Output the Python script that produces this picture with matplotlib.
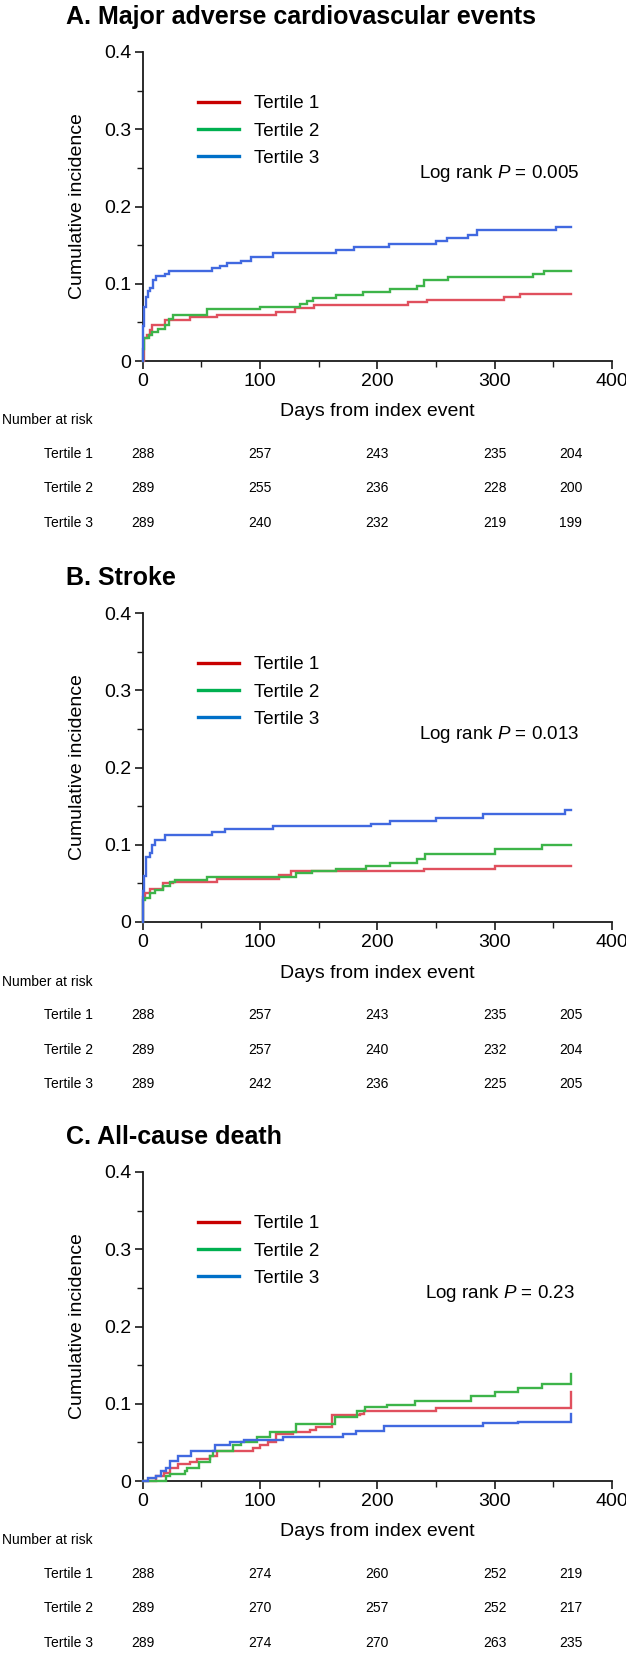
import matplotlib
matplotlib.use("Agg")
import matplotlib.pyplot as plt
from matplotlib.lines import Line2D
from matplotlib.ticker import MultipleLocator
from matplotlib.transforms import blended_transform_factory

plt.rcParams["font.family"] = ["Liberation Sans", "DejaVu Sans"]
plt.rcParams["mathtext.fontset"] = "custom"
plt.rcParams["mathtext.rm"] = "Liberation Sans"
plt.rcParams["mathtext.it"] = "Liberation Sans:italic"

groups = ["Tertile 1", "Tertile 2", "Tertile 3"]
curve_colors = ["#e0505e", "#3db449", "#4169e0"]
legend_colors = ["#c80000", "#00b050", "#0070c8"]

x_ticks = [0, 100, 200, 300, 400]
y_ticks = [0, 0.1, 0.2, 0.3, 0.4]
y_tick_labels = ["0", "0.1", "0.2", "0.3", "0.4"]
risk_days = [0, 100, 200, 300, 365]

titles = ["A. Major adverse cardiovascular events", "B. Stroke", "C. All-cause death"]
log_rank = ["0.005", "0.013", "0.23"]

# A. MACE
mace_t1_days = [0, 1, 4, 6, 8, 19, 40, 63, 114, 130, 146, 226, 242, 308, 322, 365]
mace_t1_inc = [0, 0.030, 0.034, 0.040, 0.046, 0.053, 0.057, 0.060, 0.064, 0.068, 0.072, 0.076, 0.079, 0.083, 0.087, 0.087]
mace_t2_days = [0, 0.5, 1.5, 5, 8, 13, 19, 22, 26, 55, 100, 134, 140, 145, 165, 188, 211, 234, 240, 260, 333, 342, 365]
mace_t2_inc = [0, 0.016, 0.030, 0.034, 0.038, 0.042, 0.047, 0.055, 0.060, 0.067, 0.070, 0.074, 0.078, 0.081, 0.085,
               0.089, 0.093, 0.097, 0.105, 0.109, 0.113, 0.117, 0.117]
mace_t3_days = [0, 0.5, 1.5, 2.5, 4.5, 6, 8.5, 11, 19, 22, 59, 66, 72, 84, 92, 111, 165, 180, 210, 250, 259, 277, 285,
                352, 365]
mace_t3_inc = [0, 0.045, 0.070, 0.083, 0.090, 0.095, 0.105, 0.110, 0.113, 0.117, 0.120, 0.123, 0.127, 0.130, 0.134,
               0.140, 0.144, 0.147, 0.151, 0.155, 0.159, 0.163, 0.170, 0.174, 0.174]

# B. Stroke
stroke_t1_days = [0, 0.5, 2, 6, 17.5, 26, 63, 116, 126, 240, 300, 365]
stroke_t1_inc = [0, 0.033, 0.037, 0.043, 0.050, 0.052, 0.056, 0.061, 0.066, 0.068, 0.072, 0.072]
stroke_t2_days = [0, 0.5, 2, 6, 10.5, 17, 23, 27.5, 55, 131, 144, 165, 190, 211, 234, 241, 300, 340, 365]
stroke_t2_inc = [0, 0.028, 0.031, 0.037, 0.041, 0.046, 0.052, 0.055, 0.058, 0.063, 0.066, 0.069, 0.073, 0.077, 0.082,
                 0.088, 0.095, 0.100, 0.100]
stroke_t3_days = [0, 0.5, 1.5, 2.5, 6, 7.6, 10.5, 19, 59, 70, 111, 195, 211, 250, 290, 360, 365]
stroke_t3_inc = [0, 0.040, 0.060, 0.084, 0.089, 0.100, 0.106, 0.112, 0.117, 0.121, 0.124, 0.127, 0.131, 0.135, 0.140,
                 0.145, 0.145]

# C. All-cause death
death_t1_days = [0, 11, 18, 23, 30, 40, 46.5, 57, 63, 94, 100, 107, 114, 128, 143, 148, 161, 185, 189, 250, 365, 365]
death_t1_inc = [0, 0.0065, 0.011, 0.017, 0.022, 0.025, 0.028, 0.032, 0.039, 0.043, 0.047, 0.050, 0.061, 0.063, 0.066,
                0.070, 0.085, 0.087, 0.091, 0.095, 0.095, 0.115]
death_t2_days = [0, 20, 23, 36, 38, 48, 57, 60, 77, 84, 97, 108.5, 131, 164, 182.5, 189.5, 208, 232, 280, 300, 320, 340,
                 365, 365]
death_t2_inc = [0, 0.0065, 0.009, 0.013, 0.017, 0.024, 0.032, 0.039, 0.047, 0.050, 0.057, 0.064, 0.074, 0.083, 0.090,
                0.096, 0.098, 0.104, 0.110, 0.115, 0.120, 0.125, 0.130, 0.138]
death_t3_days = [0, 4.4, 11, 16, 20, 23, 30, 41.5, 61.6, 74.4, 86, 120, 171, 182, 206, 290, 320, 365, 365]
death_t3_inc = [0, 0.0035, 0.0065, 0.013, 0.017, 0.026, 0.032, 0.039, 0.047, 0.050, 0.053, 0.057, 0.061, 0.065, 0.071,
                0.075, 0.077, 0.077, 0.087]

mace_risk = [[288, 257, 243, 235, 204], [289, 255, 236, 228, 200], [289, 240, 232, 219, 199]]
stroke_risk = [[288, 257, 243, 235, 205], [289, 257, 240, 232, 204], [289, 242, 236, 225, 205]]
death_risk = [[288, 274, 260, 252, 219], [289, 270, 257, 252, 217], [289, 274, 270, 263, 235]]

panels = [
    ([(mace_t1_days, mace_t1_inc), (mace_t2_days, mace_t2_inc), (mace_t3_days, mace_t3_inc)], mace_risk),
    ([(stroke_t1_days, stroke_t1_inc), (stroke_t2_days, stroke_t2_inc), (stroke_t3_days, stroke_t3_inc)], stroke_risk),
    ([(death_t1_days, death_t1_inc), (death_t2_days, death_t2_inc), (death_t3_days, death_t3_inc)], death_risk),
]

W, H = 626, 1653
fig = plt.figure(figsize=(W / 100, H / 100), dpi=100)

ax_left, ax_right = 142.7, 612.0
ax_h = 309.0
ax_bottoms = [361, 922, 1481]
ax_w = ax_right - ax_left

for i, ((curves, risk), title, p) in enumerate(zip(panels, titles, log_rank)):
    bottom = ax_bottoms[i]
    ax = fig.add_axes([ax_left / W, (H - bottom) / H, ax_w / W, ax_h / H])

    for (days, inc), color in zip(curves, curve_colors):
        ax.step(days, inc, where="post", color=color, lw=1.7, solid_joinstyle="miter", clip_on=False, zorder=3)

    ax.set_xlim(0, 400)
    ax.set_ylim(0, 0.4)
    ax.set_xticks(x_ticks)
    ax.set_yticks(y_ticks)
    ax.set_yticklabels(y_tick_labels)
    ax.xaxis.set_minor_locator(MultipleLocator(50))
    ax.yaxis.set_minor_locator(MultipleLocator(0.05))
    for s in ["top", "right"]:
        ax.spines[s].set_visible(False)
    for s in ["left", "bottom"]:
        ax.spines[s].set_linewidth(1.3)
        ax.spines[s].set_color("#1a1a1a")
    ax.tick_params(which="major", direction="out", length=5.8, width=1.2, color="#1a1a1a", labelsize=14, pad=2.5)
    ax.tick_params(which="minor", direction="out", length=4, width=1.0, color="#1a1a1a")

    ax.set_xlabel("Days from index event", fontsize=14, va="center")
    ax.xaxis.set_label_coords(0.5, -51 / ax_h)
    ax.set_ylabel("Cumulative incidence", fontsize=14, va="center")
    ax.yaxis.set_label_coords(-65 / ax_w, 0.5)

    ax.text((66 - ax_left) / ax_w, 1 + 35 / ax_h, title, transform=ax.transAxes,
            fontsize=18, fontweight="bold", ha="left", va="center")

    handles = [Line2D([], [], color=c, lw=2.4) for c in legend_colors]
    ax.legend(handles, groups, loc="upper left", bbox_to_anchor=((198 - ax_left) / ax_w, 1 - 43 / ax_h),
              frameon=False, fontsize=13.5, handlelength=2.2, handletextpad=0.8, labelspacing=0.55,
              borderpad=0, borderaxespad=0)

    ax.text(304, 0.243, f"Log rank $P$ = {p}", fontsize=13.5, ha="center", va="center")

    # number at risk table
    tr = blended_transform_factory(ax.transData, ax.transAxes)
    lab_x = (93 - ax_left) / ax_w
    ax.text(lab_x, -59.5 / ax_h, "Number at risk", transform=ax.transAxes, fontsize=10,
            ha="right", va="center", clip_on=False)
    for j, (g, row) in enumerate(zip(groups, risk)):
        y = -(93 + 34.5 * j) / ax_h
        ax.text(lab_x, y, g, transform=ax.transAxes, fontsize=10, ha="right", va="center")
        for d, n in zip(risk_days, row):
            ax.text(d, y, str(n), transform=tr, fontsize=10, ha="center", va="center")

fig.savefig("out.png", dpi=100)
